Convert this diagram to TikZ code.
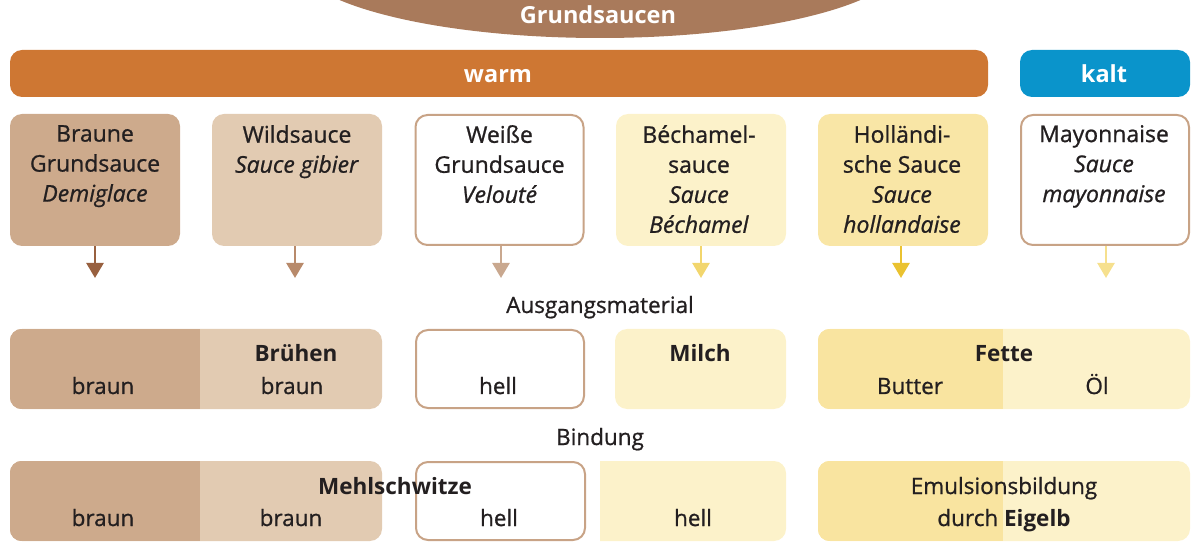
\documentclass[tikz,border=0pt]{standalone}
\usepackage{fontspec}
\setmainfont{Open Sans}[FakeBold=0.9, BoldFeatures={FakeBold=0}]
\usetikzlibrary{arrows.meta,shapes.geometric}
\definecolor{txtc}{HTML}{231F20}
\definecolor{ellc}{HTML}{A97A5B}
\definecolor{warmc}{HTML}{CE7733}
\definecolor{kaltc}{HTML}{0A94CB}
\definecolor{tandark}{HTML}{CDAA8C}
\definecolor{tanlight}{HTML}{E2CBB2}
\definecolor{bordc}{HTML}{C8A386}
\definecolor{yellight}{HTML}{FCF2CA}
\definecolor{yeldark}{HTML}{F9E4A0}
\definecolor{arrA}{HTML}{98603F}
\definecolor{arrB}{HTML}{B88A6B}
\definecolor{arrC}{HTML}{C9A88F}
\definecolor{arrD}{HTML}{F2D66E}
\definecolor{arrE}{HTML}{EAC230}
\definecolor{arrF}{HTML}{F6E08E}
\begin{document}
\begin{tikzpicture}[x=1pt,y=-1pt,
  topbox/.style={rectangle, rounded corners=12pt, minimum width=170pt, minimum height=132pt, inner sep=0pt},
  whitebox/.style={rectangle, rounded corners=12pt, fill=white, draw=bordc, line width=2pt, inner sep=0pt},
  flatbox/.style={rectangle, rounded corners=12pt, inner sep=0pt},
  bar/.style={rectangle, rounded corners=12pt, minimum height=47pt, inner sep=0pt},
  txt/.style={text=txtc, font=\fontsize{23}{30}\selectfont, inner sep=0pt, align=center},
  lbl/.style={text=txtc, font=\fontsize{22.5}{28}\selectfont, inner sep=0pt, anchor=base},
  blbl/.style={lbl, font=\fontsize{22.5}{28}\selectfont\bfseries},
  wlbl/.style={text=white, font=\fontsize{23.5}{28}\selectfont\bfseries, inner sep=0pt, anchor=base},
  arr/.style={line width=2.5pt, -{Triangle[width=17pt,length=15pt]}}
]
\useasboundingbox (0,0) rectangle (1200,553);

% header ellipse
\node[ellipse, fill=ellc, minimum width=612pt, minimum height=160pt, inner sep=0pt] (ell) at (600,-42) {};
\node[wlbl] (ellt) at (598,24) {Grundsaucen};

% bars
\node[bar, fill=warmc, minimum width=978pt] (warm) at (499,73.5) {};
\node[wlbl] (warmt) at (498,83) {warm};
\node[bar, fill=kaltc, minimum width=170pt] (kalt) at (1105,73.5) {};
\node[wlbl] (kaltt) at (1104,83) {kalt};

% top boxes
\node[topbox, fill=tandark] (b1) at (95,180) {};
\node[topbox, fill=tanlight] (b2) at (297,180) {};
\node[whitebox, minimum width=168pt, minimum height=130pt] (b3) at (499.5,180) {};
\node[topbox, fill=yellight] (b4) at (701,180) {};
\node[topbox, fill=yeldark!85!yellight] (b5) at (903,180) {};
\node[whitebox, minimum width=168pt, minimum height=130pt] (b6) at (1105,180) {};

\node[txt, anchor=north] (t1) at (95,125) {Braune\\Grundsauce\\\textit{Demiglace}};
\node[txt, anchor=north] (t2) at (297,125) {Wildsauce\\\textit{Sauce gibier}};
\node[txt, anchor=north] (t3) at (499.5,125) {Weiße\\Grundsauce\\\textit{Velouté}};
\node[txt, anchor=north] (t4) at (699,125) {Béchamel-\\sauce\\\textit{Sauce}\\\textit{Béchamel}};
\node[txt, anchor=north] (t5) at (902,125) {Holländi-\\sche Sauce\\\textit{Sauce}\\\textit{hollandaise}};
\node[txt, anchor=north] (t6) at (1104,125) {Mayonnaise\\\textit{Sauce}\\\textit{mayonnaise}};

% arrows
\coordinate (a1) at (95,278);
\coordinate (a2) at (295,278);
\coordinate (a3) at (501,278);
\coordinate (a4) at (701,278);
\coordinate (a5) at (901,278);
\coordinate (a6) at (1106,278);
\draw[arr, arrA] (b1.south -| a1) -- (a1);
\draw[arr, arrB] (b2.south -| a2) -- (a2);
\draw[arr, arrC] (b3.south -| a3) -- (a3);
\draw[arr, arrD] (b4.south -| a4) -- (a4);
\draw[arr, arrE] (b5.south -| a5) -- (a5);
\draw[arr, arrF] (b6.south -| a6) -- (a6);

\node[lbl] (aus) at (600,313) {Ausgangsmaterial};
\node[lbl] (bind) at (600,445) {Bindung};

% row 2
\node[flatbox, fill=tanlight, minimum width=372pt, minimum height=80pt] (r2a) at (196,369) {};
\begin{scope}
  \clip[rounded corners=12pt] (r2a.north west) rectangle (r2a.south east);
  \fill[tandark] (r2a.north west) rectangle (200,409);
\end{scope}
\node[whitebox, minimum width=168pt, minimum height=78pt] (r2b) at (500,369) {};
\node[flatbox, fill=yellight, minimum width=171pt, minimum height=80pt] (r2c) at (700.5,369) {};
\node[flatbox, fill=yellight, minimum width=372pt, minimum height=80pt] (r2d) at (1004,369) {};
\begin{scope}
  \clip[rounded corners=12pt] (r2d.north west) rectangle (r2d.south east);
  \fill[yeldark] (r2d.north west) rectangle (1003,409);
\end{scope}

\node[lbl] (r2t1) at (103,394) {braun};
\node[blbl] (r2t2) at (296,362) {Brühen};
\node[lbl] (r2t3) at (292,394) {braun};
\node[lbl] (r2t4) at (498,394) {hell};
\node[blbl] (r2t5) at (700,362) {Milch};
\node[blbl] (r2t6) at (1004,362) {Fette};
\node[lbl] (r2t7) at (910,394) {Butter};
\node[lbl] (r2t8) at (1097,394) {Öl};

% row 3
\node[flatbox, fill=tanlight, minimum width=372pt, minimum height=80pt] (r3a) at (196,501) {};
\begin{scope}
  \clip[rounded corners=12pt] (r3a.north west) rectangle (r3a.south east);
  \fill[tandark] (r3a.north west) rectangle (200,541);
\end{scope}
\node[whitebox, minimum width=169pt, minimum height=78pt] (r3b) at (500.5,501) {};
\begin{scope}
  \clip (600,450) rectangle (800,550);
  \node[flatbox, fill=yellight, minimum width=200pt, minimum height=80pt] (r3c) at (686,501) {};
\end{scope}
\node[flatbox, fill=yellight, minimum width=372pt, minimum height=80pt] (r3d) at (1004,501) {};
\begin{scope}
  \clip[rounded corners=12pt] (r3d.north west) rectangle (r3d.south east);
  \fill[yeldark] (r3d.north west) rectangle (1003,541);
\end{scope}

\node[blbl] (r3t0) at (395,494) {Mehlschwitze};
\node[lbl] (r3t1) at (103,526) {braun};
\node[lbl] (r3t2) at (291,526) {braun};
\node[lbl] (r3t3) at (499,526) {hell};
\node[lbl] (r3t4) at (693,526) {hell};
\node[lbl] (r3t5) at (1004,494) {Emulsionsbildung};
\node[lbl] (r3t6) at (1004,526) {durch \textbf{Eigelb}};
\end{tikzpicture}
\end{document}
